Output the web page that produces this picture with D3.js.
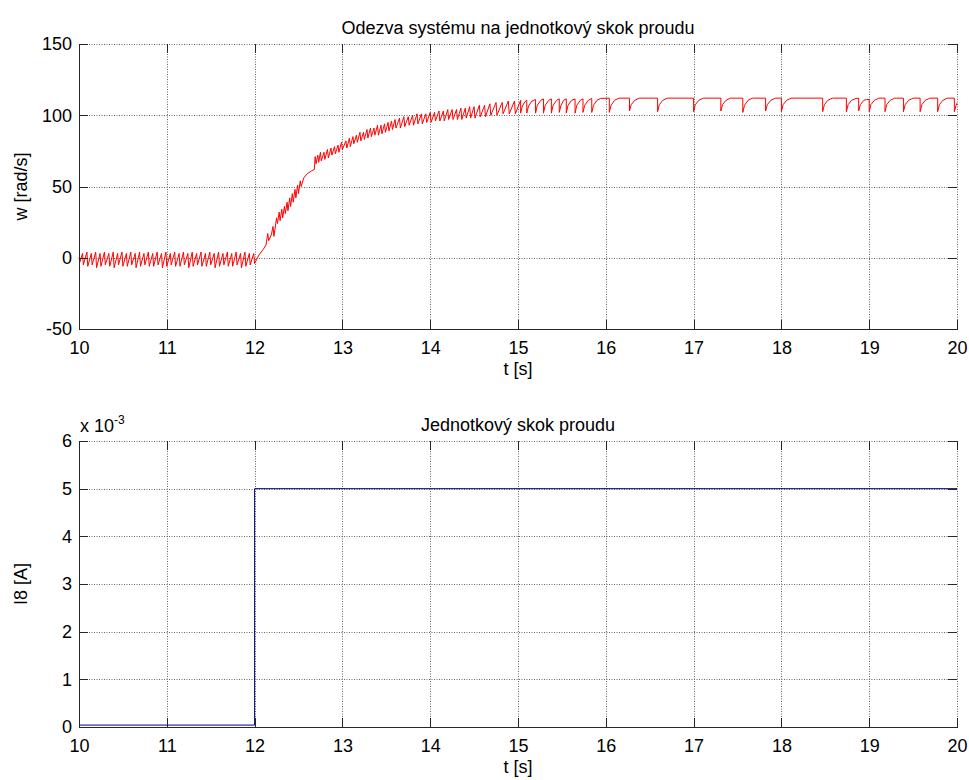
<!DOCTYPE html>
<html>
<head>
<meta charset="utf-8">
<script src="https://cdn.jsdelivr.net/npm/d3@7"></script>
<style>
  html, body { margin: 0; padding: 0; background: #fff; }
  svg { display: block; font-family: Arial, "Liberation Sans", sans-serif; }
  .grid line { stroke: #666; stroke-width: 1; stroke-dasharray: 1,1.5; }
  .axis path, .axis line { stroke: #262626; shape-rendering: crispEdges; }
  .axis text { fill: #000; }
</style>
</head>
<body>
<svg id="chart" width="969" height="780"></svg>
<script>
const timeTicks = [10, 11, 12, 13, 14, 15, 16, 17, 18, 19, 20]
const speedTicks = [-50, 0, 50, 100, 150]
const currentTicks = [0, 0.001, 0.002, 0.003, 0.004, 0.005, 0.006]

// w [rad/s], vertices as [t, w]
const speedIdle = [
  [10.00, 0], [10.01, -3], [10.04, 3], [10.05, -5], [10.09, 4], [10.10, -6], [10.14, 3], [10.15, -5],
  [10.19, 4], [10.20, -7], [10.24, 3], [10.25, -6], [10.29, 4], [10.30, -5], [10.34, 3], [10.35, -6],
  [10.39, 4], [10.40, -7], [10.44, 3], [10.45, -5], [10.49, 4], [10.50, -6], [10.54, 3], [10.55, -6],
  [10.59, 4], [10.60, -5], [10.64, 3], [10.65, -7], [10.69, 4], [10.70, -6], [10.74, 3], [10.75, -5],
  [10.79, 4], [10.80, -6], [10.84, 3], [10.85, -6], [10.89, 4], [10.90, -5], [10.94, 3], [10.95, -7],
  [10.99, 4], [11.00, -6], [11.04, 3], [11.05, -5], [11.09, 4], [11.10, -6], [11.14, 3], [11.15, -6],
  [11.19, 4], [11.20, -5], [11.24, 3], [11.25, -7], [11.29, 4], [11.30, -6], [11.34, 3], [11.35, -5],
  [11.39, 4], [11.40, -6], [11.44, 3], [11.45, -6], [11.49, 4], [11.50, -5], [11.54, 3], [11.55, -7],
  [11.59, 4], [11.60, -6], [11.64, 3], [11.65, -5], [11.69, 4], [11.70, -6], [11.74, 3], [11.75, -6],
  [11.79, 4], [11.80, -5], [11.84, 3], [11.85, -7], [11.89, 4], [11.90, -6], [11.94, 3], [11.95, -5],
  [11.99, 3], [12.00, -4]
]
const speedRise = [
  [12.05, 2], [12.10, 6], [12.13, 9], [12.15, 17], [12.16, 12], [12.19, 16], [12.21, 22], [12.22, 15],
  [12.25, 28], [12.26, 24], [12.28, 32], [12.29, 26], [12.31, 34], [12.32, 28], [12.34, 36], [12.35, 31],
  [12.37, 39], [12.38, 33], [12.40, 42], [12.41, 36], [12.43, 45], [12.44, 39], [12.46, 48], [12.47, 42],
  [12.49, 51], [12.50, 45], [12.52, 54], [12.53, 50], [12.56, 56], [12.60, 59], [12.65, 61], [12.68, 62],
  [12.69, 71], [12.70, 66], [12.72, 72], [12.73, 67], [12.75, 74], [12.76, 68], [12.79, 74], [12.80, 69],
  [12.83, 76], [12.84, 70], [12.87, 77], [12.88, 72], [12.91, 78], [12.92, 73], [12.95, 79], [12.96, 74],
  [12.99, 81], [13.00, 76], [13.04, 82], [13.05, 77], [13.08, 84], [13.09, 78], [13.12, 85], [13.13, 80],
  [13.16, 86], [13.17, 81], [13.20, 88], [13.21, 82], [13.24, 88], [13.25, 83], [13.28, 90], [13.29, 84],
  [13.32, 91], [13.33, 85], [13.36, 91], [13.37, 86], [13.40, 93], [13.41, 86], [13.44, 93], [13.45, 87],
  [13.48, 94], [13.49, 88], [13.52, 95], [13.53, 89], [13.56, 96], [13.57, 90], [13.60, 97], [13.61, 91],
  [13.65, 98], [13.66, 91], [13.70, 99], [13.71, 92], [13.75, 99], [13.76, 93], [13.80, 100], [13.81, 93],
  [13.85, 101], [13.86, 94], [13.90, 101], [13.91, 94], [13.95, 101], [13.96, 95], [14.00, 102], [14.01, 95],
  [14.05, 102], [14.06, 96], [14.10, 103], [14.11, 96], [14.15, 103], [14.16, 96], [14.20, 104], [14.21, 97],
  [14.25, 104], [14.26, 97], [14.30, 104], [14.31, 97], [14.35, 105], [14.36, 97], [14.40, 105], [14.41, 98],
  [14.45, 106], [14.46, 98], [14.50, 106], [14.51, 98], [14.56, 107], [14.57, 99], [14.62, 107], [14.63, 99],
  [14.68, 108], [14.69, 100], [14.75, 109], [14.76, 100], [14.82, 109], [14.83, 101], [14.89, 110], [14.90, 101],
  [14.96, 110], [14.97, 101]
]
const speedSettled = [
  [15.03, 110.5], [15.03, 101.5], [15.05, 106.5], [15.08, 109.5], [15.10, 110.5], [15.10, 101.5],
  [15.12, 106.5], [15.16, 110], [15.20, 111], [15.20, 101.5], [15.22, 107], [15.26, 110.5], [15.29, 111.5],
  [15.29, 101.5], [15.31, 107], [15.35, 110.5], [15.38, 111.5], [15.38, 101.5], [15.40, 107], [15.44, 110.5],
  [15.47, 111.5], [15.47, 102], [15.49, 107], [15.52, 110.5], [15.55, 111.5], [15.55, 101.5], [15.57, 107],
  [15.61, 110.5], [15.65, 111.5], [15.65, 101.5], [15.67, 107], [15.71, 110.5], [15.74, 111.5], [15.74, 102],
  [15.76, 107], [15.80, 110.5], [15.84, 111.8], [15.84, 102], [15.86, 107], [15.90, 110.5], [15.94, 111.8],
  [16.04, 112], [16.04, 102], [16.06, 107], [16.10, 110.5], [16.15, 112],
  [16.27, 112], [16.27, 103], [16.29, 107.5], [16.33, 110.5], [16.38, 112],
  [16.59, 112], [16.59, 102.5], [16.61, 107.5], [16.65, 110.5], [16.70, 112],
  [17.00, 112], [17.00, 102.5], [17.02, 107.5], [17.06, 110.5], [17.11, 112],
  [17.31, 112], [17.31, 103], [17.33, 107.5], [17.37, 110.5], [17.42, 112],
  [17.56, 112], [17.56, 102], [17.58, 107], [17.62, 110.5], [17.67, 112],
  [17.82, 112], [17.82, 103], [17.84, 107.5], [17.88, 110.5], [17.93, 112],
  [18.00, 112], [18.00, 102.5], [18.02, 107.5], [18.06, 110.5], [18.11, 112],
  [18.47, 112], [18.47, 102.5], [18.49, 107.5], [18.53, 110.5], [18.58, 112],
  [18.74, 112], [18.74, 102.5], [18.76, 107.5], [18.80, 110.5], [18.85, 111.8],
  [18.88, 112], [18.88, 103], [18.90, 107.5], [18.94, 110.5], [18.97, 111],
  [19.00, 111], [19.00, 102.5], [19.02, 107.5], [19.06, 110.5], [19.11, 112],
  [19.18, 112], [19.18, 102.5], [19.20, 107.5], [19.24, 110.5], [19.29, 112],
  [19.39, 112], [19.39, 102.5], [19.41, 107.5], [19.45, 110.5], [19.50, 112],
  [19.58, 112], [19.58, 102.5], [19.60, 107.5], [19.64, 110.5], [19.69, 112],
  [19.78, 112], [19.78, 102.5], [19.80, 107.5], [19.84, 110.5], [19.89, 112],
  [19.97, 112], [19.97, 102.5], [19.99, 107], [20.00, 108.5]
]

// I8 [A], a step at t = 12 s
const currentTime = [10, 12, 12, 20]
const currentValue = [0.00004, 0.00004, 0.005, 0.005]

const svg = d3.select('#chart')
const FONT = 18
const crisp = v => Math.round(v) + 0.5

function drawPanel (cfg) {
  const x = d3.scaleLinear().domain([10, 20]).range([79, 957])
  const y = d3.scaleLinear().domain(cfg.yDomain).range([cfg.bottom, cfg.top])
  const g = svg.append('g')

  // dotted grid
  const grid = g.append('g').attr('class', 'grid')
  grid.selectAll('line.gx').data(timeTicks.slice(1)).join('line')
    .attr('class', 'gx')
    .attr('x1', d => crisp(x(d))).attr('x2', d => crisp(x(d)))
    .attr('y1', cfg.top).attr('y2', cfg.bottom)
  grid.selectAll('line.gy').data(cfg.yTicks.slice(1)).join('line')
    .attr('class', 'gy')
    .attr('y1', d => crisp(y(d))).attr('y2', d => crisp(y(d)))
    .attr('x1', 79).attr('x2', 957)

  // the trace
  g.append('path')
    .datum(cfg.data)
    .attr('fill', 'none')
    .attr('stroke', cfg.color)
    .attr('stroke-width', 1)
    .attr('stroke-linejoin', 'round')
    .attr('d', d3.line().x(d => x(d[0])).y(d => y(d[1])))

  const styleAxis = sel => sel.attr('font-size', FONT).attr('font-family', 'Arial, "Liberation Sans", sans-serif')

  g.append('g').attr('class', 'axis')
    .attr('transform', `translate(0,${crisp(cfg.bottom) - 0.5})`)
    .call(d3.axisBottom(x).tickValues(timeTicks).tickSize(-9).tickSizeOuter(0).tickPadding(12).tickFormat(d => String(d)))
    .call(styleAxis)
  g.append('g').attr('class', 'axis')
    .attr('transform', `translate(${crisp(79) - 0.5},0)`)
    .call(d3.axisLeft(y).tickValues(cfg.yTicks).tickSize(-9).tickSizeOuter(0).tickPadding(7).tickFormat(cfg.format))
    .call(styleAxis)
  // mirrored ticks on the top and right edges
  g.append('g').attr('class', 'axis')
    .attr('transform', `translate(0,${crisp(cfg.top) - 0.5})`)
    .call(d3.axisTop(x).tickValues(timeTicks).tickSize(-9).tickFormat(''))
    .call(s => s.select('.domain').remove())
  g.append('g').attr('class', 'axis')
    .attr('transform', `translate(${crisp(957) - 0.5},0)`)
    .call(d3.axisRight(y).tickValues(cfg.yTicks).tickSize(-9).tickFormat(''))
    .call(s => s.select('.domain').remove())

  g.append('text')
    .attr('x', 518).attr('y', cfg.top - 10)
    .attr('text-anchor', 'middle').attr('font-size', FONT)
    .text(cfg.title)
  g.append('text')
    .attr('x', 518).attr('y', cfg.bottom + 46)
    .attr('text-anchor', 'middle').attr('font-size', FONT)
    .text('t [s]')
  g.append('text')
    .attr('transform', `translate(21,${(cfg.top + cfg.bottom) / 2}) rotate(-90)`)
    .attr('dy', '0.35em')
    .attr('text-anchor', 'middle').attr('font-size', FONT)
    .text(cfg.yLabel)
  return g
}

drawPanel({
  top: 44,
  bottom: 329,
  yDomain: [-50, 150],
  yTicks: speedTicks,
  format: d => String(d),
  data: speedIdle.concat(speedRise, speedSettled),
  color: '#ff0000',
  title: 'Odezva systému na jednotkový skok proudu',
  yLabel: 'w [rad/s]'
})

const lower = drawPanel({
  top: 441,
  bottom: 727,
  yDomain: [0, 0.006],
  yTicks: currentTicks,
  format: d => String(Math.round(d * 1000)),
  data: currentTime.map((t, i) => [t, currentValue[i]]),
  color: '#00007f',
  title: 'Jednotkový skok proudu',
  yLabel: 'I8 [A]'
})

// exponent marker above the lower axes
const expo = lower.append('text')
  .attr('x', 80).attr('y', 432).attr('font-size', FONT)
expo.append('tspan').text('x 10')
expo.append('tspan').attr('dy', -8).attr('font-size', 12).text('-3')
</script>
</body>
</html>
